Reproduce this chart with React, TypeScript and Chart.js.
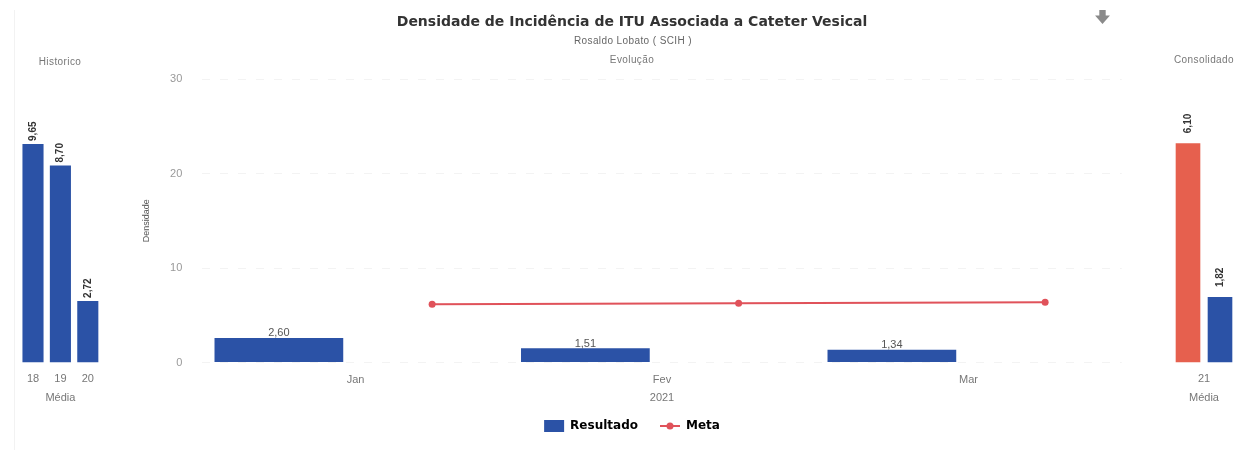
import React, { useEffect, useRef } from 'react';
import { Chart, registerables } from 'chart.js';

Chart.register(...registerables);
Chart.defaults.font.family = '"Liberation Sans", Arial, sans-serif';

// ---- data ----
const months = ['Jan', 'Fev', 'Mar'];
const resultado = [2.6, 1.51, 1.34];
const meta = [6.16, 6.26, 6.37];
const yearLabel = '2021';

const histYears = ['18', '19', '20'];
const histValues = [9.65, 8.7, 2.72];

const consYears = ['21'];
const consMeta = [6.1];
const consResultado = [1.82];

const BLUE = '#2b52a6';
const RED_BAR = '#e6604e';
const RED_LINE = '#e0525a';

const fmt = (v: number) => v.toFixed(2).replace('.', ',');

function verticalLabels(gap: number) {
  return {
    id: 'verticalLabels',
    afterDatasetsDraw(chart: any) {
      const ctx = chart.ctx;
      ctx.save();
      ctx.font = 'bold 10px "Liberation Sans", Arial, sans-serif';
      ctx.fillStyle = '#333';
      ctx.textAlign = 'left';
      ctx.textBaseline = 'middle';
      chart.data.datasets.forEach((ds: any, di: number) => {
        const m = chart.getDatasetMeta(di);
        m.data.forEach((el: any, i: number) => {
          ctx.save();
          ctx.translate(el.x, el.y - gap);
          ctx.rotate(-Math.PI / 2);
          ctx.fillText(fmt(ds.data[i]), 0, 0);
          ctx.restore();
        });
      });
      ctx.restore();
    },
  };
}

const mainLabels = {
  id: 'mainLabels',
  afterDatasetsDraw(chart: any) {
    const ctx = chart.ctx;
    const m = chart.getDatasetMeta(0);
    ctx.save();
    ctx.font = '11px "Liberation Sans", Arial, sans-serif';
    ctx.fillStyle = '#555';
    ctx.textAlign = 'center';
    ctx.textBaseline = 'bottom';
    m.data.forEach((el: any, i: number) => {
      ctx.fillText(fmt(resultado[i]), el.x, el.y + 1);
    });
    ctx.restore();
  },
};

function sideXAxis() {
  return {
    grid: { display: false },
    border: { display: false },
    ticks: { color: '#777', font: { size: 11 }, padding: 2 },
    title: { display: true, text: 'Média', color: '#777', font: { size: 11 }, padding: { top: 0, bottom: 5.5 } },
    afterFit: (s: any) => { s.height = 47.5; },
  };
}

function HistChart() {
  const ref = useRef<HTMLCanvasElement>(null);
  useEffect(() => {
    const chart = new Chart(ref.current!, {
      type: 'bar',
      data: {
        labels: histYears,
        datasets: [{ label: 'Histórico', data: histValues, backgroundColor: BLUE, categoryPercentage: 1, barPercentage: 0.77 }],
      },
      options: {
        animation: false,
        responsive: false,
        layout: { padding: { top: 78.5, bottom: 44, left: 19.3, right: 18.5 } },
        plugins: { legend: { display: false }, tooltip: { enabled: false } },
        scales: {
          x: sideXAxis() as any,
          y: { display: false, min: 0, max: 12.54 },
        },
      },
      plugins: [verticalLabels(3)],
    });
    return () => chart.destroy();
  }, []);
  return <canvas ref={ref} width={120} height={454} style={{ position: 'absolute', left: 0, top: 0, width: 120, height: 454 }} />;
}

function ConsChart() {
  const ref = useRef<HTMLCanvasElement>(null);
  useEffect(() => {
    const chart = new Chart(ref.current!, {
      type: 'bar',
      data: {
        labels: consYears,
        datasets: [
          { label: 'Meta', data: consMeta, backgroundColor: RED_BAR, categoryPercentage: 1, barPercentage: 0.77 },
          { label: 'Resultado', data: consResultado, backgroundColor: BLUE, categoryPercentage: 1, barPercentage: 0.77 },
        ],
      },
      options: {
        animation: false,
        responsive: false,
        layout: { padding: { top: 78.5, bottom: 44, left: 22, right: 0 } },
        plugins: { legend: { display: false }, tooltip: { enabled: false } },
        scales: {
          x: sideXAxis() as any,
          y: { display: false, min: 0, max: 7.9 },
        },
      },
      plugins: [verticalLabels(10)],
    });
    return () => chart.destroy();
  }, []);
  return <canvas ref={ref} width={86} height={454} style={{ position: 'absolute', left: 1150, top: 0, width: 86, height: 454 }} />;
}

function MainChart() {
  const ref = useRef<HTMLCanvasElement>(null);
  useEffect(() => {
    const icon = document.createElement('canvas');
    icon.width = 20;
    icon.height = 12;
    const ic = icon.getContext('2d')!;
    ic.strokeStyle = RED_LINE;
    ic.lineWidth = 2;
    ic.beginPath();
    ic.moveTo(0, 6);
    ic.lineTo(20, 6);
    ic.stroke();
    ic.fillStyle = RED_LINE;
    ic.beginPath();
    ic.arc(10, 6, 3.5, 0, Math.PI * 2);
    ic.fill();

    const chart = new Chart(ref.current!, {
      type: 'bar',
      data: {
        datasets: [
          {
            type: 'bar',
            label: 'Resultado',
            data: resultado.map((v, i) => ({ x: i + 0.25, y: v })),
            backgroundColor: BLUE,
            categoryPercentage: 1,
            barPercentage: 0.42,
            order: 2,
          },
          {
            type: 'line',
            label: 'Meta',
            data: meta.map((v, i) => ({ x: i + 0.75, y: v })),
            borderColor: RED_LINE,
            backgroundColor: RED_LINE,
            borderWidth: 2,
            pointRadius: 3.5,
            pointBackgroundColor: RED_LINE,
            pointBorderWidth: 0,
            tension: 0,
            order: 1,
          } as any,
        ],
      },
      options: {
        animation: false,
        responsive: false,
        layout: { padding: { top: 79, bottom: 12, left: 0, right: 12 } },
        plugins: {
          tooltip: { enabled: false },
          legend: {
            position: 'bottom',
            labels: {
              usePointStyle: true,
              pointStyleWidth: 20,
              boxHeight: 12,
              padding: 10,
              color: '#333',
              font: { family: '"DejaVu Sans", sans-serif', weight: 'bold', size: 12 },
              generateLabels: (c: any) =>
                c.data.datasets.map((ds: any, i: number) => ({
                  text: i === 0 ? ds.label + '\u2002\u2002' : ds.label,
                  fillStyle: ds.backgroundColor,
                  strokeStyle: ds.backgroundColor,
                  lineWidth: 0,
                  pointStyle: i === 0 ? 'rect' : icon,
                  datasetIndex: i,
                  hidden: false,
                })),
            },
          },
        },
        scales: {
          x: {
            type: 'linear',
            min: 0,
            max: months.length,
            offset: false,
            grid: { display: false },
            border: { display: false },
            afterBuildTicks: (s: any) => {
              s.ticks = months.map((_, i) => ({ value: i + 0.5 }));
            },
            ticks: {
              autoSkip: false,
              maxRotation: 0,
              color: '#777',
              font: { size: 11 },
              padding: 3,
              callback: (_v: any, i: number) => months[i],
            },
            title: { display: true, text: yearLabel, color: '#777', font: { size: 11 }, padding: { top: 0, bottom: 5.4 } },
            afterFit: (s: any) => { s.height = 47.5; },
          },
          y: {
            min: 0,
            max: 30,
            ticks: { stepSize: 10, color: '#999', font: { size: 11 }, padding: 20 },
            grid: { color: '#f3f3f3', drawTicks: false, lineWidth: 1 },
            border: { display: false, dash: [8, 10] },
            title: { display: true, text: 'Densidade', color: '#555', font: { size: 9 }, padding: { top: 11.6, bottom: 0 } },
            afterFit: (s: any) => { s.width = 72.25; },
          },
          yRight: {
            type: 'linear',
            position: 'right',
            grid: { display: false },
            border: { display: false },
            ticks: { display: false },
            afterFit: (s: any) => { s.width = 12.25; },
          },
        },
      },
      plugins: [mainLabels],
    });
    return () => chart.destroy();
  }, []);
  return <canvas ref={ref} width={1016} height={454} style={{ position: 'absolute', left: 130, top: 0, width: 1016, height: 454 }} />;
}

const small: React.CSSProperties = {
  position: 'absolute',
  fontFamily: '"Liberation Sans", Arial, sans-serif',
  fontSize: 10,
  letterSpacing: 0.4,
  color: '#777',
  whiteSpace: 'nowrap',
  transform: 'translate(-50%, -50%)',
  lineHeight: 1,
};

export default function App() {
  return (
    <div style={{ position: 'absolute', left: 0, top: 0, width: 1236, height: 454, background: '#fff', overflow: 'hidden' }}>
      <div style={{ position: 'absolute', left: 14, top: 10, width: 1, height: 440, background: '#f2f2f2' }} />
      <HistChart />
      <MainChart />
      <ConsChart />
      <div style={{ ...small, left: 632, top: 21, fontFamily: '"DejaVu Sans", sans-serif', fontWeight: 'bold', fontSize: 14, letterSpacing: 0, color: '#333' }}>
        Densidade de Incidência de ITU Associada a Cateter Vesical
      </div>
      <div style={{ ...small, left: 633, top: 41, color: '#666' }}>Rosaldo Lobato ( SCIH )</div>
      <div style={{ ...small, left: 632, top: 60 }}>Evolução</div>
      <div style={{ ...small, left: 60, top: 62 }}>Historico</div>
      <div style={{ ...small, left: 1204, top: 60 }}>Consolidado</div>
      <svg style={{ position: 'absolute', left: 1094, top: 10 }} width="17" height="15" viewBox="0 0 16 14">
        <path d="M5 0 H11 V5 H15 L8 13 L1 5 H5 Z" fill="#8a8a8a" />
      </svg>
    </div>
  );
}
